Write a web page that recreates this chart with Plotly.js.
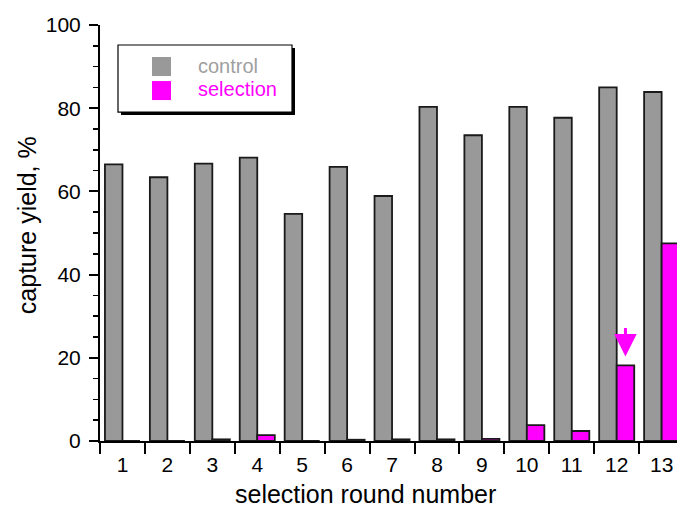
<!DOCTYPE html>
<html>
<head>
<meta charset="utf-8">
<script src="https://cdn.plot.ly/plotly-3.0.1.min.js"></script>
<style>html,body{margin:0;padding:0;background:#fff;}#chart{width:677px;height:510px;}</style>
</head>
<body>
<div id="chart"></div>
<script>
var rounds = ["1","2","3","4","5","6","7","8","9","10","11","12","13"];
var controlYield = [66.5, 63.4, 66.7, 68.1, 54.6, 65.9, 58.9, 80.3, 73.5, 80.3, 77.7, 85.0, 83.9];
var selectionYield = [0, 0, 0.4, 1.4, 0, 0.3, 0.4, 0.4, 0.5, 3.8, 2.4, 18.2, 47.5];
var legendLabels = ["control", "selection"];
var yTitle = "capture yield, %";
var xTitle = "selection round number";

var FONT = "Liberation Sans, Arial, Helvetica, sans-serif";
var GRAY = "#999999";
var MAG = "#ff00ff";
var L = 100, R = 677, T = 25, B = 440.7;
function px(x){ return (x - L) / (R - L); }
function py(y){ return (B - y) / (B - T); }

var traces = [
  {type:"bar", x:rounds, y:controlYield, name:legendLabels[0],
   marker:{color:GRAY, line:{color:"#1a1a1a", width:1.8}}},
  {type:"bar", x:rounds, y:selectionYield, name:legendLabels[1],
   marker:{color:MAG, line:{color:"#1a1a1a", width:1.8}}}
];

var layout = {
  width:677, height:510,
  margin:{l:L, r:0, t:T, b:510-B},
  paper_bgcolor:"#fff", plot_bgcolor:"#fff",
  showlegend:false,
  barmode:"group", bargap:0.22, bargroupgap:0,
  font:{family:FONT, size:21, color:"#000"},
  xaxis:{type:"category", range:[-0.5, 12.342], showline:true, linecolor:"#000", linewidth:2,
    tickson:"boundaries", ticks:"outside", ticklen:11, tickwidth:2, tickcolor:"#000",
    showgrid:false, zeroline:false, tickfont:{size:21}, fixedrange:true, ticklabelstandoff:4},
  yaxis:{range:[0,100], showline:true, linecolor:"#000", linewidth:2,
    ticks:"outside", ticklen:9, tickwidth:2, tickcolor:"#000", dtick:20,
    minor:{dtick:5, ticks:"outside", ticklen:5, tickwidth:1.5, tickcolor:"#000"},
    showgrid:false, zeroline:false, tickfont:{size:21}, ticklabelstandoff:4},
  shapes:[
    {type:"rect", xref:"paper", yref:"paper", x0:px(121), x1:px(295), y0:py(115), y1:py(48),
     fillcolor:"#000", line:{width:0}, layer:"above"},
    {type:"rect", xref:"paper", yref:"paper", x0:px(118), x1:px(292), y0:py(112), y1:py(45),
     fillcolor:"#fff", line:{color:"#000", width:1.2}, layer:"above"},
    {type:"rect", xref:"paper", yref:"paper", x0:px(152), x1:px(171), y0:py(76), y1:py(57),
     fillcolor:GRAY, line:{width:0}, layer:"above"},
    {type:"rect", xref:"paper", yref:"paper", x0:px(152), x1:px(171), y0:py(100), y1:py(81),
     fillcolor:MAG, line:{width:0}, layer:"above"}
  ],
  annotations:[
    {text:legendLabels[0], xref:"paper", yref:"paper", x:px(196), y:py(66), xanchor:"left", yanchor:"middle",
     showarrow:false, font:{family:FONT, size:20, color:"#a0a0a0"}},
    {text:legendLabels[1], xref:"paper", yref:"paper", x:px(196), y:py(89), xanchor:"left", yanchor:"middle",
     showarrow:false, font:{family:FONT, size:20, color:MAG}},
    {text:xTitle, xref:"paper", yref:"paper", x:px(365), y:py(494), xanchor:"center", yanchor:"middle",
     showarrow:false, font:{family:FONT, size:25, color:"#000"}},
    {text:yTitle, xref:"paper", yref:"paper", x:px(27), y:py(225), xanchor:"center", yanchor:"middle",
     textangle:-90, showarrow:false, font:{family:FONT, size:25, color:"#000"}},
    {text:"", x:11.195, y:20.3, ax:11.195, ay:27.5, xref:"x", yref:"y", axref:"x", ayref:"y",
     showarrow:true, arrowhead:2, arrowsize:1.5, arrowwidth:3, arrowcolor:MAG}
  ]
};

Plotly.newPlot("chart", traces, layout, {displayModeBar:false, staticPlot:true});
</script>
</body>
</html>
